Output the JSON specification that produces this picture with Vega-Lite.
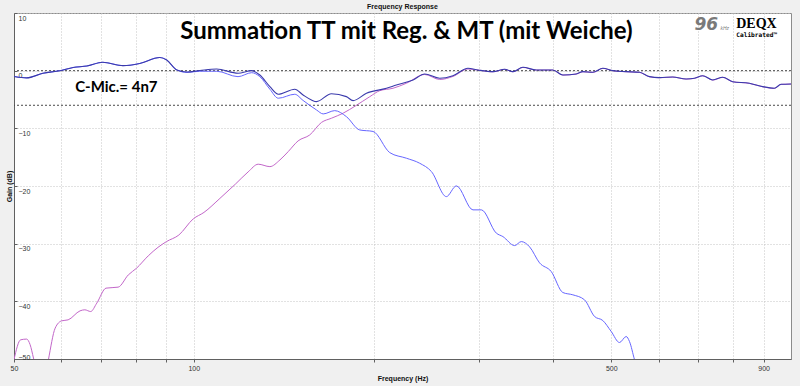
{
  "$schema": "https://vega.github.io/schema/vega-lite/v6.json",
  "width": 777,
  "height": 346,
  "autosize": "none",
  "padding": {"left": 14, "top": 13, "right": 9, "bottom": 27},
  "background": "#f0f0f0",
  "title": {"text": "Frequency Response", "fontSize": 7, "font": "Liberation Sans", "fontWeight": "bold", "offset": 3, "anchor": "middle", "frame": "group", "color": "#111111"},
  "config": {
    "view": {"fill": "white", "stroke": "#8c8c8c", "strokeWidth": 1},
    "axis": {"domainColor": "#606060", "tickColor": "#606060", "labelColor": "#333333", "labelFont": "Liberation Sans", "labelFontSize": 7, "titleFont": "Liberation Sans", "titleFontSize": 7, "titleFontWeight": "bold", "titleColor": "#111111", "gridColor": "#c4c4c4", "gridDash": [1, 2], "labelOverlap": false}
  },
  "datasets": {
    "curves": [
      {"s": "Summe", "f": 50, "db": -1.0}, {"s": "Summe", "f": 52.5, "db": -1.25}, {"s": "Summe", "f": 55.9, "db": -0.45}, {"s": "Summe", "f": 59.7, "db": 0.0}, {"s": "Summe", "f": 62.8, "db": 0.55}, {"s": "Summe", "f": 66.2, "db": 0.8}, {"s": "Summe", "f": 70.4, "db": 1.45}, {"s": "Summe", "f": 76.1, "db": 0.87}, {"s": "Summe", "f": 81.2, "db": 1.25}, {"s": "Summe", "f": 87.7, "db": 2.29}, {"s": "Summe", "f": 90.1, "db": 1.85}, {"s": "Summe", "f": 93.7, "db": 0.12}, {"s": "Summe", "f": 97.4, "db": -0.23}, {"s": "Summe", "f": 102.4, "db": 0.03}, {"s": "Summe", "f": 109.2, "db": 0.29}, {"s": "Summe", "f": 118.6, "db": -0.45}, {"s": "Summe", "f": 125.0, "db": 0.0}, {"s": "Summe", "f": 129.0, "db": -0.75}, {"s": "Summe", "f": 134.1, "db": -2.77}, {"s": "Summe", "f": 138.5, "db": -4.09}, {"s": "Summe", "f": 147.6, "db": -3.22}, {"s": "Summe", "f": 152.4, "db": -4.21}, {"s": "Summe", "f": 157.4, "db": -5.08}, {"s": "Summe", "f": 160.5, "db": -5.37}, {"s": "Summe", "f": 170.0, "db": -3.99}, {"s": "Summe", "f": 180.1, "db": -4.5}, {"s": "Summe", "f": 184.8, "db": -5.2}, {"s": "Summe", "f": 194.6, "db": -3.92}, {"s": "Summe", "f": 210.2, "db": -3.05}, {"s": "Summe", "f": 218.4, "db": -2.48}, {"s": "Summe", "f": 232.9, "db": -1.61}, {"s": "Summe", "f": 243.6, "db": -0.57}, {"s": "Summe", "f": 258.1, "db": -1.32}, {"s": "Summe", "f": 271.6, "db": -0.87}, {"s": "Summe", "f": 287.8, "db": 0.42}, {"s": "Summe", "f": 299.1, "db": 0.12}, {"s": "Summe", "f": 316.9, "db": -0.17}, {"s": "Summe", "f": 331.5, "db": 0.24}, {"s": "Summe", "f": 342.3, "db": -0.17}, {"s": "Summe", "f": 355.7, "db": 0.59}, {"s": "Summe", "f": 374.6, "db": 0.12}, {"s": "Summe", "f": 399.3, "db": 0.12}, {"s": "Summe", "f": 414.9, "db": -0.75}, {"s": "Summe", "f": 436.9, "db": -0.57}, {"s": "Summe", "f": 448.2, "db": -0.17}, {"s": "Summe", "f": 465.8, "db": -0.28}, {"s": "Summe", "f": 484.1, "db": 0.42}, {"s": "Summe", "f": 503.1, "db": 0.0}, {"s": "Summe", "f": 529.7, "db": -0.17}, {"s": "Summe", "f": 557.5, "db": -0.28}, {"s": "Summe", "f": 579.5, "db": -1.04}, {"s": "Summe", "f": 602.2, "db": -1.21}, {"s": "Summe", "f": 633.8, "db": -1.09}, {"s": "Summe", "f": 667.4, "db": -1.44}, {"s": "Summe", "f": 689.1, "db": -1.32}, {"s": "Summe", "f": 711.5, "db": -0.87}, {"s": "Summe", "f": 739.5, "db": -1.61}, {"s": "Summe", "f": 768.6, "db": -1.14}, {"s": "Summe", "f": 798.8, "db": -1.91}, {"s": "Summe", "f": 851.7, "db": -2.18}, {"s": "Summe", "f": 896.5, "db": -2.77}, {"s": "Summe", "f": 937.8, "db": -3.05}, {"s": "Summe", "f": 962.3, "db": -2.36}, {"s": "Summe", "f": 1000, "db": -2.3},

      {"s": "TT", "f": 50, "db": -1.0}, {"s": "TT", "f": 52.5, "db": -1.25}, {"s": "TT", "f": 55.9, "db": -0.45}, {"s": "TT", "f": 59.7, "db": 0.0}, {"s": "TT", "f": 62.8, "db": 0.55}, {"s": "TT", "f": 66.2, "db": 0.8}, {"s": "TT", "f": 70.4, "db": 1.45}, {"s": "TT", "f": 76.1, "db": 0.87}, {"s": "TT", "f": 81.2, "db": 1.25}, {"s": "TT", "f": 87.7, "db": 2.29}, {"s": "TT", "f": 90.1, "db": 1.85}, {"s": "TT", "f": 93.7, "db": 0.12}, {"s": "TT", "f": 97.4, "db": -0.3}, {"s": "TT", "f": 102.4, "db": -0.1}, {"s": "TT", "f": 109.2, "db": -0.1}, {"s": "TT", "f": 118.6, "db": -1.04}, {"s": "TT", "f": 125.0, "db": -0.35}, {"s": "TT", "f": 129.0, "db": -1.04}, {"s": "TT", "f": 134.1, "db": -3.22}, {"s": "TT", "f": 138.5, "db": -4.78}, {"s": "TT", "f": 147.6, "db": -4.09}, {"s": "TT", "f": 152.4, "db": -5.16}, {"s": "TT", "f": 160.5, "db": -6.81}, {"s": "TT", "f": 164.7, "db": -7.5}, {"s": "TT", "f": 172.2, "db": -6.93}, {"s": "TT", "f": 180.1, "db": -7.97}, {"s": "TT", "f": 189.6, "db": -10.28}, {"s": "TT", "f": 199.6, "db": -10.54}, {"s": "TT", "f": 212.9, "db": -14.21}, {"s": "TT", "f": 227.0, "db": -15.18}, {"s": "TT", "f": 238.9, "db": -16.05}, {"s": "TT", "f": 250.0, "db": -17.5}, {"s": "TT", "f": 264.8, "db": -21.84}, {"s": "TT", "f": 275.2, "db": -19.98}, {"s": "TT", "f": 293.4, "db": -24.14}, {"s": "TT", "f": 303.1, "db": -24.14}, {"s": "TT", "f": 321.1, "db": -28.18}, {"s": "TT", "f": 329.3, "db": -28.77}, {"s": "TT", "f": 344.5, "db": -30.33}, {"s": "TT", "f": 353.5, "db": -29.64}, {"s": "TT", "f": 365.0, "db": -30.55}, {"s": "TT", "f": 379.3, "db": -33.33}, {"s": "TT", "f": 396.8, "db": -34.84}, {"s": "TT", "f": 414.9, "db": -38.47}, {"s": "TT", "f": 431.2, "db": -38.87}, {"s": "TT", "f": 451.1, "db": -39.74}, {"s": "TT", "f": 468.9, "db": -42.63}, {"s": "TT", "f": 484.1, "db": -43.33}, {"s": "TT", "f": 500, "db": -45.23}, {"s": "TT", "f": 516.2, "db": -47.14}, {"s": "TT", "f": 529.7, "db": -46.1}, {"s": "TT", "f": 536.5, "db": -46.97}, {"s": "TT", "f": 546.9, "db": -50.1}, {"s": "TT", "f": 568.4, "db": -56},

      {"s": "MT", "f": 50, "db": -50.1}, {"s": "MT", "f": 51.3, "db": -46.67}, {"s": "MT", "f": 52.5, "db": -46.55}, {"s": "MT", "f": 53.2, "db": -47.5}, {"s": "MT", "f": 53.9, "db": -49.84}, {"s": "MT", "f": 54.8, "db": -52.9}, {"s": "MT", "f": 55.7, "db": -53.6}, {"s": "MT", "f": 56.6, "db": -52.2}, {"s": "MT", "f": 57.1, "db": -50.1}, {"s": "MT", "f": 58.6, "db": -44.65}, {"s": "MT", "f": 60.1, "db": -43.38}, {"s": "MT", "f": 61.6, "db": -43.21}, {"s": "MT", "f": 64.5, "db": -41.65}, {"s": "MT", "f": 65.7, "db": -41.47}, {"s": "MT", "f": 67.2, "db": -41.77}, {"s": "MT", "f": 68.8, "db": -40.31}, {"s": "MT", "f": 71.3, "db": -37.71}, {"s": "MT", "f": 74.7, "db": -37.54}, {"s": "MT", "f": 77.7, "db": -35.41}, {"s": "MT", "f": 80.2, "db": -34.25}, {"s": "MT", "f": 83.9, "db": -32.11}, {"s": "MT", "f": 87.1, "db": -30.64}, {"s": "MT", "f": 90.0, "db": -29.64}, {"s": "MT", "f": 94.4, "db": -28.5}, {"s": "MT", "f": 99.8, "db": -25.7}, {"s": "MT", "f": 104.0, "db": -24.58}, {"s": "MT", "f": 110.6, "db": -22.15}, {"s": "MT", "f": 117.5, "db": -19.64}, {"s": "MT", "f": 123.3, "db": -17.56}, {"s": "MT", "f": 128.2, "db": -16.22}, {"s": "MT", "f": 134.1, "db": -16.64}, {"s": "MT", "f": 139.4, "db": -15.48}, {"s": "MT", "f": 143.9, "db": -14.04}, {"s": "MT", "f": 149.5, "db": -12.18}, {"s": "MT", "f": 156.4, "db": -11.14}, {"s": "MT", "f": 163.6, "db": -8.98}, {"s": "MT", "f": 170.0, "db": -8.25}, {"s": "MT", "f": 177.8, "db": -7.38}, {"s": "MT", "f": 186.7, "db": -6.08}, {"s": "MT", "f": 197.1, "db": -4.51}, {"s": "MT", "f": 204.8, "db": -3.47}, {"s": "MT", "f": 215.6, "db": -3.05}, {"s": "MT", "f": 227.0, "db": -2.18}, {"s": "MT", "f": 243.6, "db": -0.66}, {"s": "MT", "f": 258.1, "db": -1.53}, {"s": "MT", "f": 271.6, "db": -1.0}, {"s": "MT", "f": 287.8, "db": 0.29}, {"s": "MT", "f": 299.1, "db": 0.1}, {"s": "MT", "f": 316.9, "db": -0.2}, {"s": "MT", "f": 331.5, "db": 0.22}, {"s": "MT", "f": 342.3, "db": -0.2}, {"s": "MT", "f": 355.7, "db": 0.57}, {"s": "MT", "f": 374.6, "db": 0.1}, {"s": "MT", "f": 399.3, "db": 0.1}, {"s": "MT", "f": 414.9, "db": -0.77}, {"s": "MT", "f": 436.9, "db": -0.59}, {"s": "MT", "f": 448.2, "db": -0.19}, {"s": "MT", "f": 465.8, "db": -0.3}, {"s": "MT", "f": 484.1, "db": 0.4}, {"s": "MT", "f": 503.1, "db": -0.02}, {"s": "MT", "f": 529.7, "db": -0.19}, {"s": "MT", "f": 557.5, "db": -0.3}, {"s": "MT", "f": 579.5, "db": -1.06}, {"s": "MT", "f": 602.2, "db": -1.23}, {"s": "MT", "f": 633.8, "db": -1.11}, {"s": "MT", "f": 667.4, "db": -1.46}, {"s": "MT", "f": 689.1, "db": -1.34}, {"s": "MT", "f": 711.5, "db": -0.89}, {"s": "MT", "f": 739.5, "db": -1.63}, {"s": "MT", "f": 768.6, "db": -1.16}, {"s": "MT", "f": 798.8, "db": -1.93}, {"s": "MT", "f": 851.7, "db": -2.2}, {"s": "MT", "f": 896.5, "db": -2.79}, {"s": "MT", "f": 937.8, "db": -3.07}, {"s": "MT", "f": 962.3, "db": -2.38}, {"s": "MT", "f": 1000, "db": -2.32}
    ],
    "one": [{}]
  },
  "layer": [
    {
      "data": {"name": "curves"},
      "transform": [{"filter": "datum.s === 'MT'"}],
      "mark": {"type": "line", "interpolate": "monotone", "strokeWidth": 1, "clip": true, "color": "#c266c9"},
      "encoding": {
        "x": {"field": "f", "type": "quantitative", "scale": {"type": "log", "domain": [50, 1000], "nice": false},
          "axis": {"orient": "bottom", "values": [50, 60, 70, 80, 90, 100, 200, 300, 400, 500, 600, 700, 800, 900], "format": "d",
            "labelExpr": "indexof([50,100,500,900], datum.value) >= 0 ? datum.label : ''",
            "labelFlush": false, "labelOverlap": false, "tickSize": 3, "labelPadding": 2, "grid": true,
            "title": "Frequency (Hz)", "titleY": 19, "titleBaseline": "middle"}},
        "y": {"field": "db", "type": "quantitative", "scale": {"domain": [-50, 10], "nice": false, "zero": false},
          "axis": {"orient": "left", "values": [-50, -40, -30, -20, -10, 0, 10], "format": "d",
            "labelOverlap": false, "labelFlush": false,
            "labelAlign": "left", "labelPadding": -1, "tickSize": -3,
            "labelBaseline": {"condition": {"test": "datum.value === -50", "value": "bottom"}, "value": "top"},
            "labelOffset": 1,
            "grid": true,
            "title": "Gain (dB)", "titleX": -5, "titleY": 173, "titleAngle": -90, "titleAlign": "center", "titleBaseline": "middle"}}
      }
    },
    {
      "data": {"name": "one"},
      "mark": {"type": "rule", "color": "#4a4a4a", "strokeDash": [2, 2], "strokeWidth": 1},
      "encoding": {"y": {"datum": 0}}
    },
    {
      "data": {"name": "one"},
      "mark": {"type": "rule", "color": "#4a4a4a", "strokeDash": [2, 2], "strokeWidth": 1},
      "encoding": {"y": {"datum": -6}}
    },
    {
      "data": {"name": "curves"},
      "transform": [{"filter": "datum.s === 'TT'"}],
      "mark": {"type": "line", "interpolate": "monotone", "strokeWidth": 1, "clip": true, "color": "#6666ff"},
      "encoding": {"x": {"field": "f", "type": "quantitative"}, "y": {"field": "db", "type": "quantitative"}}
    },
    {
      "data": {"name": "curves"},
      "transform": [{"filter": "datum.s === 'Summe'"}],
      "mark": {"type": "line", "interpolate": "monotone", "strokeWidth": 1.1, "clip": true, "color": "#3a3aac"},
      "encoding": {"x": {"field": "f", "type": "quantitative"}, "y": {"field": "db", "type": "quantitative"}}
    },
    {
      "data": {"name": "one"},
      "mark": {"type": "text", "font": "Lato", "fontWeight": "bold", "fontSize": 24, "color": "#000000", "align": "center", "baseline": "alphabetic"},
      "encoding": {"x": {"datum": 227}, "y": {"datum": 5.44}, "text": {"value": "Summation TT mit Reg. & MT (mit Weiche)"}}
    },
    {
      "data": {"name": "one"},
      "mark": {"type": "text", "font": "Lato", "fontWeight": "bold", "fontSize": 15, "color": "#000000", "align": "left", "baseline": "alphabetic"},
      "encoding": {"x": {"datum": 63.3}, "y": {"datum": -3.64}, "text": {"value": "C-Mic.= 4n7"}}
    },
    {
      "data": {"name": "one"},
      "mark": {"type": "text", "font": "DejaVu Sans", "fontWeight": "bold", "fontStyle": "italic", "fontSize": 17, "color": "#7a7a7a", "align": "left", "baseline": "alphabetic"},
      "encoding": {"x": {"datum": 689}, "y": {"datum": 7.0}, "text": {"value": "96"}}
    },
    {
      "data": {"name": "one"},
      "mark": {"type": "text", "font": "Liberation Sans", "fontStyle": "italic", "fontSize": 5, "color": "#7a7a7a", "align": "left", "baseline": "alphabetic"},
      "encoding": {"x": {"datum": 762}, "y": {"datum": 7.05}, "text": {"value": "kHz"}}
    },
    {
      "data": {"name": "one"},
      "mark": {"type": "text", "font": "Liberation Serif", "fontWeight": "bold", "fontSize": 14, "color": "#000000", "align": "left", "baseline": "alphabetic"},
      "encoding": {"x": {"datum": 809.6}, "y": {"datum": 7.4}, "text": {"value": "DEQX"}}
    },
    {
      "data": {"name": "one"},
      "mark": {"type": "text", "font": "DejaVu Sans Mono", "fontWeight": "bold", "fontSize": 6.2, "color": "#000000", "align": "left", "baseline": "alphabetic"},
      "encoding": {"x": {"datum": 809.6}, "y": {"datum": 5.8}, "text": {"value": "Calibrated™"}}
    }
  ]
}
